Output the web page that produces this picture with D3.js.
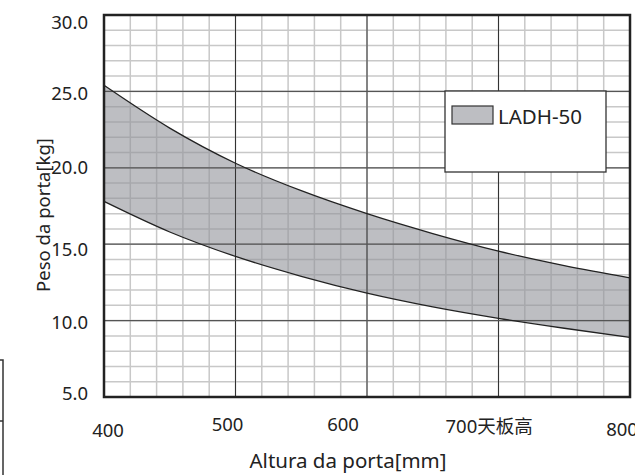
<!DOCTYPE html>
<html>
<head>
<meta charset="utf-8">
<script src="https://cdn.jsdelivr.net/npm/d3@7"></script>
<style>
body { margin: 0; background: #fff; }
text { font-family: "Noto Sans", "Noto Sans CJK SC", sans-serif; fill: #222; }
</style>
</head>
<body>
<svg id="chart" width="635" height="475"></svg>
<script>
// door height [mm] and band limits [kg]
var heights = [400, 450, 500, 550, 600, 650, 700, 750, 800];
var upperKg = [25.4, 22.6, 20.3, 18.5, 17.0, 15.7, 14.55, 13.6, 12.8];
var lowerKg = [17.8, 15.8, 14.2, 12.9, 11.8, 10.9, 10.15, 9.5, 8.9];

var xTicks = [400, 500, 600, 700, 800];
var xTickLabels = ["400", "500", "600", "700天板高", "800"];
var yTicks = [5, 10, 15, 20, 25, 30];
var seriesName = "LADH-50";

drawChart();

function drawChart() {
    var svg = d3.select("#chart");
    var pLeft = 104, pRight = 630, pTop = 15, pBottom = 397;

    var x = d3.scaleLinear().domain([400, 800]).range([pLeft, pRight]);
    var y = d3.scaleLinear().domain([5, 30]).range([pBottom, pTop]);

    // cut-off box at the left edge
    svg.append("rect").attr("x", -20).attr("y", 360).attr("width", 23).attr("height", 130)
        .attr("fill", "none").attr("stroke", "#333").attr("stroke-width", 1.5);
    svg.append("line").attr("x1", 0).attr("x2", 3).attr("y1", 421).attr("y2", 421)
        .attr("stroke", "#333").attr("stroke-width", 1.5);

    var g = svg.append("g");

    // minor grid
    var minorX = d3.range(400, 801, 20);
    var minorY = d3.range(5, 30.01, 1);
    g.selectAll(".mx").data(minorX).enter().append("line")
        .attr("x1", d => x(d)).attr("x2", d => x(d)).attr("y1", pTop).attr("y2", pBottom)
        .attr("stroke", "#c8c8c8").attr("stroke-width", 1.5);
    g.selectAll(".my").data(minorY).enter().append("line")
        .attr("x1", pLeft).attr("x2", pRight).attr("y1", d => y(d)).attr("y2", d => y(d))
        .attr("stroke", "#c8c8c8").attr("stroke-width", 1.5);

    // band
    var pts = heights.map((h, i) => ({h: h, lo: lowerKg[i], hi: upperKg[i]}));
    var area = d3.area().x(d => x(d.h)).y0(d => y(d.lo)).y1(d => y(d.hi)).curve(d3.curveMonotoneX);
    g.append("path").datum(pts).attr("d", area)
        .attr("fill", "#919399").attr("fill-opacity", 0.6);

    // major grid
    g.selectAll(".Mx").data(xTicks).enter().append("line")
        .attr("x1", d => x(d)).attr("x2", d => x(d)).attr("y1", pTop).attr("y2", pBottom)
        .attr("stroke", "#333").attr("stroke-width", 1);
    g.selectAll(".My").data(yTicks).enter().append("line")
        .attr("x1", pLeft).attr("x2", pRight).attr("y1", d => y(d)).attr("y2", d => y(d))
        .attr("stroke", "#555").attr("stroke-width", 1.2);

    // band edges
    var upLine = d3.line().x(d => x(d.h)).y(d => y(d.hi)).curve(d3.curveMonotoneX);
    var loLine = d3.line().x(d => x(d.h)).y(d => y(d.lo)).curve(d3.curveMonotoneX);
    g.append("path").datum(pts).attr("d", upLine).attr("fill", "none").attr("stroke", "#222").attr("stroke-width", 1.3);
    g.append("path").datum(pts).attr("d", loLine).attr("fill", "none").attr("stroke", "#222").attr("stroke-width", 1.3);

    // frame
    g.append("rect").attr("x", pLeft).attr("y", pTop).attr("width", pRight - pLeft).attr("height", pBottom - pTop)
        .attr("fill", "none").attr("stroke", "#222").attr("stroke-width", 2.5);

    // legend
    var lg = svg.append("g");
    lg.append("rect").attr("x", 445).attr("y", 91).attr("width", 161).attr("height", 81)
        .attr("fill", "#fff").attr("stroke", "#333").attr("stroke-width", 1.3);
    lg.append("rect").attr("x", 452).attr("y", 106).attr("width", 41).attr("height", 18)
        .attr("fill", "#919399").attr("fill-opacity", 0.6).attr("stroke", "#333").attr("stroke-width", 1.2);
    lg.append("text").attr("x", 498).attr("y", 124).attr("font-size", 20.5).text(seriesName);

    // y tick labels (slightly uneven in the source)
    var yLabelShift = [-4, 2, 5, 0, 2, 7];
    svg.selectAll(".yl").data(yTicks).enter().append("text")
        .attr("x", 88).attr("y", (d, i) => y(d) + yLabelShift[i] + 6.5)
        .attr("text-anchor", "end").attr("font-size", 18.5)
        .text(d => d.toFixed(1));

    // x tick labels (the source places them off the grid lines)
    var xLabelShift = [4, -8, -24, -37, -8];
    var xLabelY = [437, 431, 431, 433, 436];
    svg.selectAll(".xl").data(xTicks).enter().append("text")
        .attr("x", (d, i) => x(d) + xLabelShift[i]).attr("y", (d, i) => xLabelY[i])
        .attr("font-size", 18.5)
        .attr("text-anchor", (d, i) => i === 3 ? "start" : "middle")
        .attr("dx", (d, i) => i === 3 ? -16 : 0)
        .text((d, i) => xTickLabels[i]);

    // axis titles
    svg.append("text").attr("x", 348).attr("y", 468).attr("text-anchor", "middle").attr("font-size", 20.5)
        .text("Altura da porta[mm]");
    svg.append("text").attr("transform", "translate(50,215) rotate(-90)").attr("text-anchor", "middle")
        .attr("font-size", 18.5).text("Peso da porta[kg]");
}
</script>
</body>
</html>
